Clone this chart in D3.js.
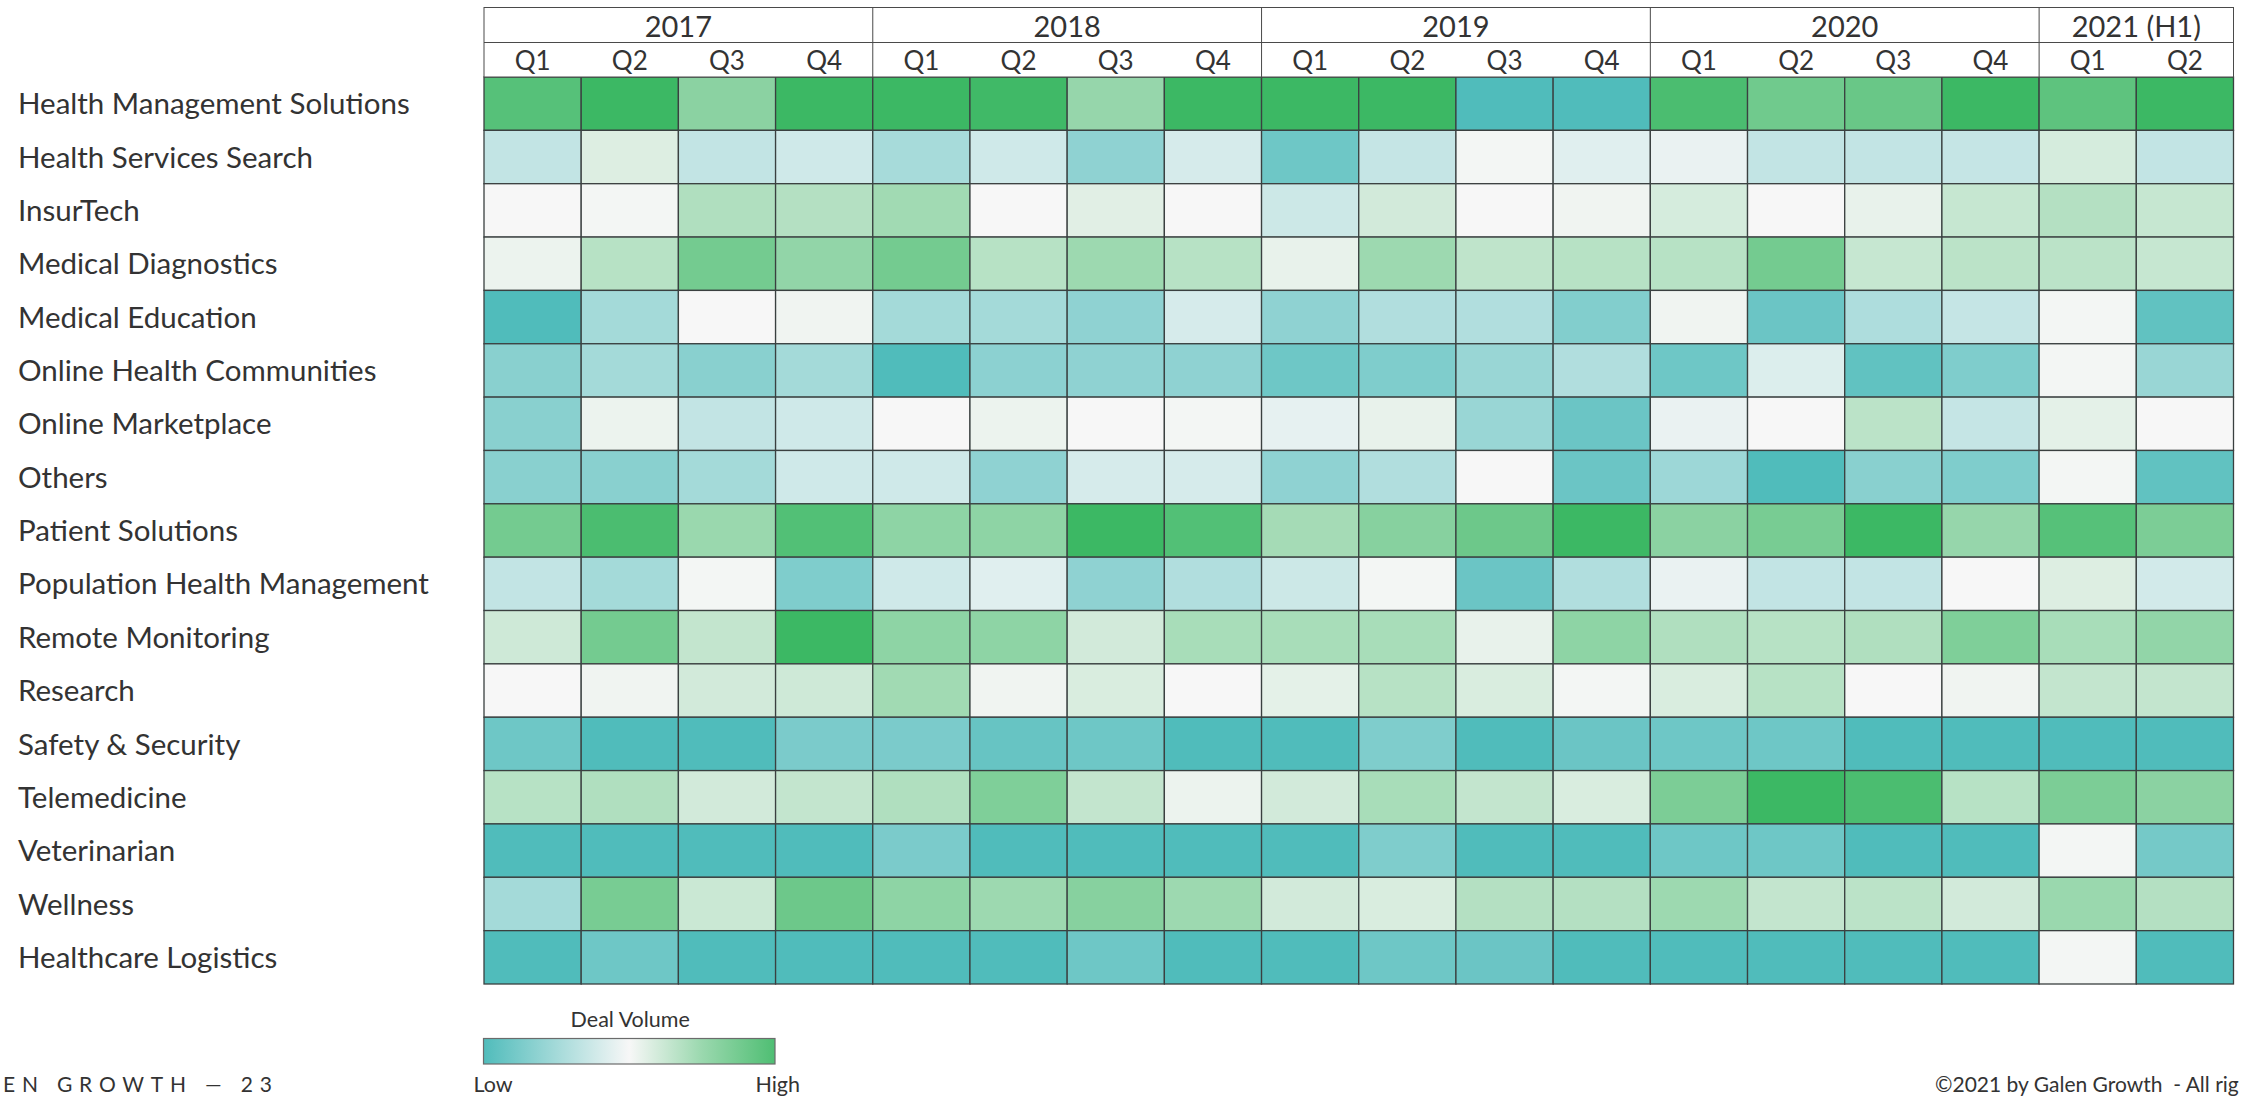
<!DOCTYPE html>
<html>
<head>
<meta charset="utf-8">
<script src="https://cdn.jsdelivr.net/npm/d3@7"></script>
<style>
  html, body { margin: 0; padding: 0; background: #ffffff; }
  svg { display: block; }
  text { font-family: Lato, "Open Sans", sans-serif; fill: #333333; }
</style>
</head>
<body>
<svg id="chart" width="2242" height="1097"></svg>
<script>
// ---------- DATA ----------
const categories = [
  "Health Management Solutions",
  "Health Services Search",
  "InsurTech",
  "Medical Diagnostics",
  "Medical Education",
  "Online Health Communities",
  "Online Marketplace",
  "Others",
  "Patient Solutions",
  "Population Health Management",
  "Remote Monitoring",
  "Research",
  "Safety & Security",
  "Telemedicine",
  "Veterinarian",
  "Wellness",
  "Healthcare Logistics"
];

const years = ["2017", "2018", "2019", "2020", "2021 (H1)"];
const quartersPerYear = [4, 4, 4, 4, 2];
const quarterLabels = ["Q1", "Q2", "Q3", "Q4"];

// Relative deal volume per quarter (0 = low, 50 = mid, 100 = high)
const healthManagementSolutions = [93,100,79,100, 100,99,76,100, 100,100,0,0, 96,86,88,100, 91,100];
const healthServicesSearch      = [34,57,34,38, 26,38,19,40, 9,35,51,43, 46,34,34,35, 59,34];
const insurTech                 = [50,51,69,68, 73,50,56,50, 37,60,50,52, 59,50,54,63, 68,63];
const medicalDiagnostics        = [53,67,85,77, 85,67,74,67, 54,74,65,67, 67,85,63,66, 66,63];
const medicalEducation          = [0,25,50,52, 25,25,19,40, 19,29,29,15, 52,8,28,35, 51,5];
const onlineHealthCommunities   = [17,25,17,25, 0,18,19,19, 9,14,22,29, 9,42,5,14, 51,22];
const onlineMarketplace         = [17,53,34,38, 50,53,50,51, 45,54,22,8, 46,50,66,35, 55,50];
const others                    = [17,17,25,38, 38,19,40,40, 19,29,50,8, 23,0,17,14, 51,5];
const patientSolutions          = [85,96,75,94, 78,78,100,94, 72,80,87,100, 79,84,100,76, 93,83];
const populationHealth          = [34,25,51,14, 38,43,19,29, 37,51,8,29, 46,34,34,50, 57,39];
const remoteMonitoring          = [61,85,64,100, 78,78,60,71, 71,71,54,78, 69,67,69,82, 71,77];
const research                  = [50,52,60,61, 73,52,58,50, 55,67,58,51, 58,67,50,52, 64,64];
const safetySecurity            = [9,0,0,13, 13,7,9,0, 0,14,0,8, 9,9,0,0, 0,0];
const telemedicine              = [67,69,60,64, 69,82,64,53, 60,71,64,58, 83,100,96,67, 83,79];
const veterinarian              = [0,0,0,0, 13,0,0,0, 0,14,0,0, 9,9,0,0, 51,11];
const wellness                  = [25,84,62,87, 78,74,80,74, 60,58,68,68, 74,64,66,60, 75,68];
const healthcareLogistics       = [0,9,0,0, 0,0,9,0, 0,9,8,0, 0,0,0,0, 51,0];

const seriesValues = [
  healthManagementSolutions, healthServicesSearch, insurTech, medicalDiagnostics,
  medicalEducation, onlineHealthCommunities, onlineMarketplace, others,
  patientSolutions, populationHealth, remoteMonitoring, research,
  safetySecurity, telemedicine, veterinarian, wellness, healthcareLogistics
];

const legendTitle = "Deal Volume";
const legendLow = "Low";
const legendHigh = "High";
const footerLeft = "EN GROWTH \u2014 23";
const footerRight = "\u00A92021 by Galen Growth  - All rig";

// ---------- BUILD ----------
const periods = [];
years.forEach((y, i) => {
  for (let q = 0; q < quartersPerYear[i]; q++) {
    periods.push({ id: y + "|" + quarterLabels[q], year: y, quarter: quarterLabels[q] });
  }
});

const cells = [];
categories.forEach((c, r) => {
  periods.forEach((p, k) => {
    cells.push({ cat: c, period: p.id, value: seriesValues[r][k] });
  });
});

const svg = d3.select("#chart");
const W = 2242, H = 1097;
svg.append("rect").attr("width", W).attr("height", H).attr("fill", "#ffffff");

const gridLeft = 484, gridRight = 2233.5;
const headerTop = 7.5, headerMid = 42.5, gridTop = 77, gridBottom = 984;

const x = d3.scaleBand().domain(periods.map(p => p.id)).range([gridLeft, gridRight]).padding(0);
const y = d3.scaleBand().domain(categories).range([gridTop, gridBottom]).padding(0);
const color = d3.scaleLinear()
  .domain([0, 50, 100])
  .range(["#50bcbb", "#f7f7f7", "#3cb864"])
  .interpolate(d3.interpolateRgb)
  .clamp(true);

// Cells
svg.append("g").selectAll("rect")
  .data(cells)
  .join("rect")
  .attr("x", d => x(d.period))
  .attr("y", d => y(d.cat))
  .attr("width", x.bandwidth())
  .attr("height", y.bandwidth())
  .attr("fill", d => color(d.value))
  .attr("stroke", "#3a4040")
  .attr("stroke-width", 1.3);

// Row labels
svg.append("g").selectAll("text")
  .data(categories)
  .join("text")
  .attr("x", 18)
  .attr("y", d => y(d) + y.bandwidth() / 2)
  .attr("dy", "0.36em")
  .attr("font-size", 29.5)
  .text(d => d);

// Header
const header = svg.append("g");
header.append("rect")
  .attr("x", gridLeft).attr("y", headerTop)
  .attr("width", gridRight - gridLeft).attr("height", gridTop - headerTop)
  .attr("fill", "#ffffff").attr("stroke", "#4a4a4a").attr("stroke-width", 1);
header.append("line")
  .attr("x1", gridLeft).attr("x2", gridRight)
  .attr("y1", headerMid).attr("y2", headerMid)
  .attr("stroke", "#4a4a4a").attr("stroke-width", 1);

const yearGroups = years.map((yr, i) => {
  const ps = periods.filter(p => p.year === yr);
  const x0 = x(ps[0].id);
  const x1 = x(ps[ps.length - 1].id) + x.bandwidth();
  return { year: yr, x0, x1 };
});

header.selectAll("line.sep")
  .data(yearGroups.slice(1))
  .join("line")
  .attr("class", "sep")
  .attr("x1", d => d.x0).attr("x2", d => d.x0)
  .attr("y1", headerTop).attr("y2", gridTop)
  .attr("stroke", "#4a4a4a").attr("stroke-width", 1);

header.selectAll("text.year")
  .data(yearGroups)
  .join("text")
  .attr("class", "year")
  .attr("x", d => (d.x0 + d.x1) / 2)
  .attr("y", 36.5)
  .attr("text-anchor", "middle")
  .attr("font-size", 29)
  .text(d => d.year);

header.selectAll("text.quarter")
  .data(periods)
  .join("text")
  .attr("class", "quarter")
  .attr("x", d => x(d.id) + x.bandwidth() / 2)
  .attr("y", 70)
  .attr("text-anchor", "middle")
  .attr("font-size", 26)
  .text(d => d.quarter);

// Legend
const legendX0 = 483.5, legendX1 = 775, legendY = 1038.5, legendH = 25.5;
const defs = svg.append("defs");
const grad = defs.append("linearGradient").attr("id", "legendGrad")
  .attr("x1", "0%").attr("x2", "100%").attr("y1", "0%").attr("y2", "0%");
const legendStops = [0, 25, 50, 75, 95];
grad.selectAll("stop")
  .data(legendStops)
  .join("stop")
  .attr("offset", (d, i) => (i / (legendStops.length - 1) * 100) + "%")
  .attr("stop-color", d => color(d));

const legendScale = d3.scaleLinear().domain([0, 100]).range([legendX0, legendX1]);
svg.append("rect")
  .attr("x", legendScale(0)).attr("y", legendY)
  .attr("width", legendScale(100) - legendScale(0)).attr("height", legendH)
  .attr("fill", "url(#legendGrad)")
  .attr("stroke", "#6b6b6b").attr("stroke-width", 1.2);
svg.append("text")
  .attr("x", (legendX0 + legendX1) / 2 + 1)
  .attr("y", 1027)
  .attr("text-anchor", "middle")
  .attr("font-size", 21.5)
  .text(legendTitle);
svg.append("text")
  .attr("x", legendScale(0) - 10)
  .attr("y", 1092)
  .attr("text-anchor", "start")
  .attr("font-size", 21.5)
  .text(legendLow);
svg.append("text")
  .attr("x", legendScale(100) + 25)
  .attr("y", 1092)
  .attr("text-anchor", "end")
  .attr("font-size", 21.5)
  .text(legendHigh);

// Footer
svg.append("text")
  .attr("x", 3)
  .attr("y", 1092)
  .attr("font-size", 21)
  .attr("letter-spacing", 6.8)
  .attr("fill", "#3a3a3a")
  .text(footerLeft);
svg.append("text")
  .attr("x", 1935)
  .attr("y", 1092)
  .attr("font-size", 21)
  .style("white-space", "pre")
  .attr("fill", "#444444")
  .text(footerRight);
</script>
</body>
</html>
